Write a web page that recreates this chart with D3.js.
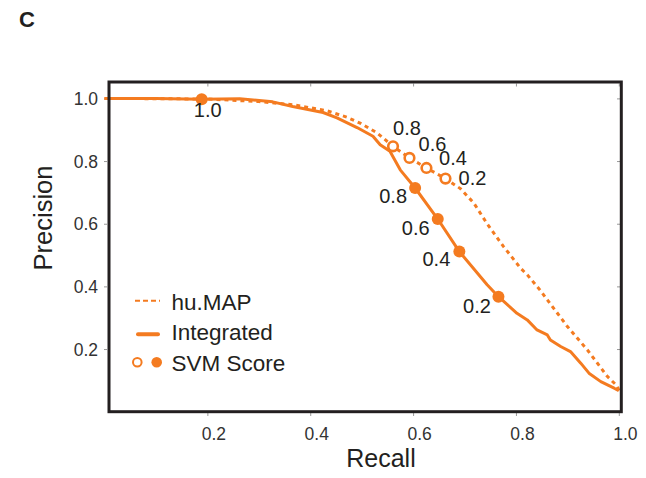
<!DOCTYPE html>
<html><head><meta charset="utf-8">
<script src="https://cdn.jsdelivr.net/npm/d3@7"></script>
<style>
body{margin:0;background:#fff;}
text{font-family:"Liberation Sans",Arial,Helvetica,sans-serif;}
</style>
</head><body>
<svg id="chart" width="646" height="478"></svg>
<script>
// ---------- data ----------
const huMapRecall    = [0, 0.2, 0.3, 0.366, 0.432, 0.471, 0.497, 0.53, 0.561, 0.593, 0.626, 0.663, 0.692, 0.718, 0.744, 0.776, 0.809, 0.822, 0.848, 0.861, 0.9, 0.939, 0.978, 0.997, 1.0];
const huMapPrecision = [1.0, 0.998, 0.99, 0.98, 0.961, 0.94, 0.921, 0.89, 0.847, 0.81, 0.778, 0.744, 0.712, 0.666, 0.6, 0.527, 0.458, 0.437, 0.386, 0.357, 0.272, 0.197, 0.112, 0.082, 0.068];

const integratedRecall    = [0, 0.1, 0.189, 0.263, 0.327, 0.366, 0.425, 0.452, 0.491, 0.522, 0.536, 0.555, 0.575, 0.604, 0.648, 0.69, 0.744, 0.766, 0.802, 0.822, 0.841, 0.861, 0.867, 0.887, 0.906, 0.926, 0.942, 0.965, 0.991, 1.0];
const integratedPrecision = [1.0, 1.0, 0.997, 0.999, 0.989, 0.974, 0.955, 0.938, 0.907, 0.879, 0.852, 0.831, 0.772, 0.714, 0.615, 0.511, 0.405, 0.367, 0.314, 0.293, 0.261, 0.245, 0.229, 0.208, 0.192, 0.155, 0.123, 0.096, 0.075, 0.067];

// SVM score thresholds marked on each curve
const svmIntegratedScores    = ["1.0", "0.8", "0.6", "0.4", "0.2"];
const svmIntegratedRecall    = [0.189, 0.604, 0.648, 0.69, 0.766];
const svmIntegratedPrecision = [0.997, 0.714, 0.615, 0.511, 0.367];

const svmHuMapScores    = ["0.8", "0.6", "0.4", "0.2"];
const svmHuMapRecall    = [0.561, 0.593, 0.626, 0.663];
const svmHuMapPrecision = [0.847, 0.81, 0.778, 0.744];

const xTicks = [0.2, 0.4, 0.6, 0.8, 1.0];
const yTicks = [0.2, 0.4, 0.6, 0.8, 1.0];
const legendLabels = ["hu.MAP", "Integrated", "SVM Score"];

// ---------- layout (not data) ----------
const ORANGE = "#f47b20";
const DARK = "#231f20";
const integratedLabelOffsets = [[6, 18], [-22, 15], [-22, 15.5], [-23, 14], [-21.5, 16.5]];
const huMapLabelOffsets = [[14, -11.5], [23, -6.5], [26.5, -2.8], [27, 6]];

const svg = d3.select("#chart");
const x = d3.scaleLinear().domain([0, 1]).range([104.5, 618.8]);
const y = d3.scaleLinear().domain([0, 1]).range([411.7, 98.4]);

// panel letter
svg.append("text").attr("x", 19).attr("y", 27).attr("font-size", 22).attr("font-weight", "bold")
  .attr("fill", DARK).text("C");

// axes (ticks)
const axB = svg.append("g").attr("transform", "translate(0,413)")
  .call(d3.axisBottom(x).tickValues(xTicks).tickSize(3).tickPadding(8).tickFormat(d3.format(".1f")));
const axL = svg.append("g").attr("transform", "translate(107,0)")
  .call(d3.axisLeft(y).tickValues(yTicks).tickSize(3).tickPadding(6).tickFormat(d3.format(".1f")));
const axT = svg.append("g").attr("transform", "translate(0,83.5)")
  .call(d3.axisBottom(x).tickValues(xTicks).tickSize(3).tickFormat(""));
const axR = svg.append("g").attr("transform", "translate(620,0)")
  .call(d3.axisLeft(y).tickValues(yTicks).tickSize(3).tickFormat(""));
[axB, axL, axT, axR].forEach(a => {
  a.select(".domain").remove();
  a.selectAll(".tick line").attr("stroke", "#999").attr("stroke-width", 1);
  a.selectAll(".tick text").attr("fill", "#333").attr("font-size", 17.5)
    .attr("font-family", "'Liberation Sans',Arial,sans-serif");
});
axB.selectAll(".tick text").attr("dx", 6).attr("dy", "0.9em");
axL.selectAll(".tick text").attr("dy", "0.35em");

// axis titles
svg.append("text").attr("x", 381).attr("y", 467).attr("text-anchor", "middle")
  .attr("font-size", 25).attr("fill", DARK).text("Recall");
svg.append("text").attr("transform", "translate(52,218) rotate(-90)").attr("text-anchor", "middle")
  .attr("font-size", 25.5).attr("fill", DARK).text("Precision");

// lines
const line = d3.line().x(d => x(d[0])).y(d => y(d[1]));
const huMapData = huMapRecall.map((r, i) => [r, huMapPrecision[i]]);
const integratedData = integratedRecall.map((r, i) => [r, integratedPrecision[i]]);

svg.append("path").datum(huMapData).attr("d", line).attr("fill", "none")
  .attr("stroke", ORANGE).attr("stroke-width", 3).attr("stroke-dasharray", "4,4");
svg.append("path").datum(integratedData).attr("d", line).attr("fill", "none")
  .attr("stroke", ORANGE).attr("stroke-width", 3).attr("stroke-linejoin", "round");

// SVM markers
svmHuMapRecall.forEach((r, i) => {
  svg.append("circle").attr("cx", x(r)).attr("cy", y(svmHuMapPrecision[i])).attr("r", 4.8)
    .attr("fill", "#fff").attr("stroke", ORANGE).attr("stroke-width", 2.6);
  svg.append("text").attr("x", x(r) + huMapLabelOffsets[i][0]).attr("y", y(svmHuMapPrecision[i]) + huMapLabelOffsets[i][1])
    .attr("text-anchor", "middle").attr("font-size", 20).attr("fill", DARK).text(svmHuMapScores[i]);
});
svmIntegratedRecall.forEach((r, i) => {
  svg.append("circle").attr("cx", x(r)).attr("cy", y(svmIntegratedPrecision[i])).attr("r", 6)
    .attr("fill", ORANGE);
  svg.append("text").attr("x", x(r) + integratedLabelOffsets[i][0]).attr("y", y(svmIntegratedPrecision[i]) + integratedLabelOffsets[i][1])
    .attr("text-anchor", "middle").attr("font-size", 20).attr("fill", DARK).text(svmIntegratedScores[i]);
});

// frame
svg.append("rect").attr("x", 109).attr("y", 82).attr("width", 512.3).attr("height", 329.7)
  .attr("fill", "none").attr("stroke", DARK).attr("stroke-width", 3);

// legend
const lg = svg.append("g");
lg.append("line").attr("x1", 135).attr("x2", 160).attr("y1", 300.7).attr("y2", 300.7)
  .attr("stroke", ORANGE).attr("stroke-width", 2).attr("stroke-dasharray", "5,3");
lg.append("line").attr("x1", 138).attr("x2", 158).attr("y1", 334.3).attr("y2", 334.3)
  .attr("stroke", ORANGE).attr("stroke-width", 4).attr("stroke-linecap", "round");
lg.append("circle").attr("cx", 137.3).attr("cy", 362.3).attr("r", 4.3)
  .attr("fill", "#fff").attr("stroke", ORANGE).attr("stroke-width", 2);
lg.append("circle").attr("cx", 156.7).attr("cy", 362.3).attr("r", 5.3).attr("fill", ORANGE);
const legendBaselines = [310, 339.5, 371];
legendLabels.forEach((t, i) => {
  lg.append("text").attr("x", 171.5).attr("y", legendBaselines[i]).attr("font-size", 22.5)
    .attr("fill", DARK).text(t);
});
</script>
</body></html>
